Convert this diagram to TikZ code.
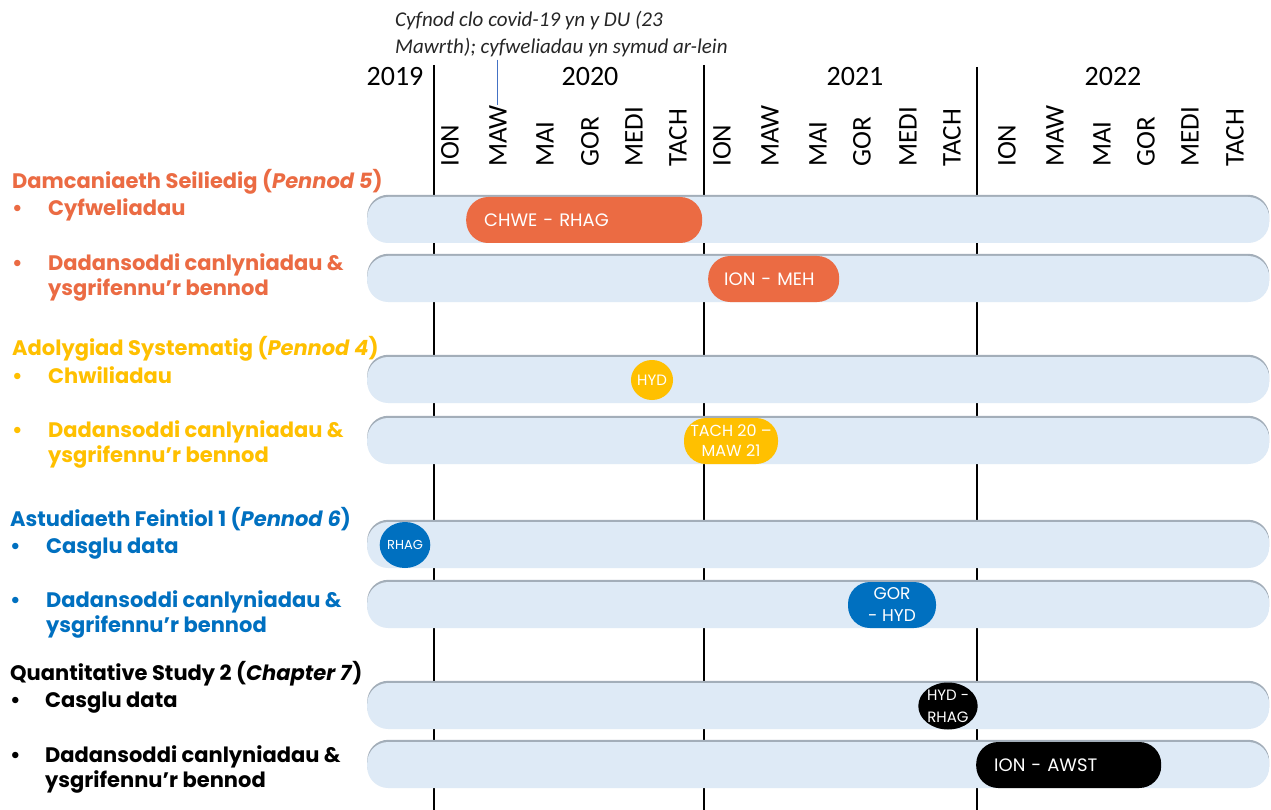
\documentclass[tikz,border=0pt]{standalone}
\usepackage{fontspec}
\setmainfont{Carlito}
\newfontfamily\gothic{Poppins}
\usetikzlibrary{shapes.geometric}
\definecolor{corange}{HTML}{EB6B43}
\definecolor{cyellow}{HTML}{FFC000}
\definecolor{cblue}{HTML}{0070C0}
\definecolor{barfill}{HTML}{DEEAF6}
\definecolor{barshadow}{HTML}{A3AEB9}
\definecolor{covidline}{HTML}{4472C4}
\tikzset{
  yearline/.style={line width=1.8pt, black},
  yearlbl/.style={font=\fontsize{28}{30}\selectfont, anchor=base, inner sep=0},
  monthlbl/.style={font=\fontsize{27}{30}\selectfont, rotate=90, anchor=base west, inner sep=0},
  bar/.style={fill=barfill, rounded corners=21, minimum width=902, minimum height=46, anchor=west, inner sep=0,
    preaction={fill=barshadow, transform canvas={yshift=2.2pt}}},
  pill/.style={rounded corners=22, minimum height=46, inner sep=0, text=white, align=center,
    font=\gothic\fontsize{18}{20}\selectfont},
  blob/.style={ellipse, inner sep=0, text=white, align=center, font=\gothic\fontsize{15}{20}\selectfont},
  head/.style={anchor=base west, inner sep=0, font=\gothic\bfseries\fontsize{21}{25}\selectfont},
  item/.style={anchor=base west, inner sep=0, align=left, font=\gothic\bfseries\fontsize{21}{25}\selectfont},
  covid/.style={covidline, line width=1.1pt},
}
\begin{document}
\begin{tikzpicture}[x=1pt,y=-1pt]
\useasboundingbox[fill=white] (0,0) rectangle (1271,810);
% covid note (base anchor = last line)
\node[anchor=base west, inner sep=0, align=left, font=\itshape\fontsize{21}{27}\selectfont, text=black!85] (note) at (395,54)
  {Cyfnod clo covid-19 yn y DU (23\\Mawrth); cyfweliadau yn symud ar-lein};
% year separators
\draw[yearline] (434,65) coordinate (s1top) -- (434,810) coordinate (s1bot);
\draw[yearline] (704,65) coordinate (s2top) -- (704,810) coordinate (s2bot);
\draw[yearline] (977,67) coordinate (s3top) -- (977,810) coordinate (s3bot);
% years
\node[yearlbl] (y2019) at (395,86) {2019};
\node[yearlbl] (y2020) at (590,86) {2020};
\node[yearlbl] (y2021) at (855,86) {2021};
\node[yearlbl] (y2022) at (1113,86) {2022};
% months
\foreach \c/\t/\n in {450/ION/a1,498/MAW/a2,545/MAI/a3,590/GOR/a4,634/MEDI/a5,678/TACH/a6,
  722/ION/b1,770/MAW/b2,818/MAI/b3,862/GOR/b4,908/MEDI/b5,952/TACH/b6,
  1007/ION/c1,1055/MAW/c2,1102/MAI/c3,1146/GOR/c4,1190/MEDI/c5,1235/TACH/c6}
  \node[monthlbl] (m\n) at (\c+8.5,167) {\t};
\draw[covid] ([yshift=-2pt]note.south -| ma2.east) -- (ma2.east);
% bars
\node[bar] (bar1) at (367,220) {};
\node[bar] (bar2) at (367,279) {};
\node[bar] (bar3) at (367,380) {};
\node[bar] (bar4) at (367,441) {};
\node[bar] (bar5) at (367,545) {};
\node[bar] (bar6) at (367,605) {};
\node[bar] (bar7) at (367,706) {};
\node[bar] (bar8) at (367,765) {};
% activities
\node[pill, fill=corange, anchor=west, text width=200, inner xsep=18, align=left] (p1) at (466,220) {CHWE - RHAG};
\node[pill, fill=corange, anchor=west, text width=99, inner xsep=16, align=left] (p2) at (708,279) {ION - MEH};
\node[blob, fill=cyellow, minimum width=40, minimum height=40] (p3) at (652,380) {HYD};
\node[pill, fill=cyellow, minimum width=94, font=\gothic\fontsize{16}{20}\selectfont] (p4) at (731,441) {TACH 20 –\\MAW 21};
\node[blob, fill=cblue, minimum width=46, minimum height=46, font=\gothic\fontsize{13}{16}\selectfont] (p5) at (405,545) {RHAG};
\node[pill, fill=cblue, minimum width=88, font=\gothic\fontsize{17}{22}\selectfont] (p6) at (892,605) {GOR\\- HYD};
\node[blob, fill=black, minimum width=56, minimum height=47, font=\gothic\fontsize{15}{22}\selectfont] (p7) at (948,706) {HYD -\\RHAG};
\node[pill, fill=black, anchor=west, text width=149, inner xsep=18, align=left] (p8) at (976,765) {ION - AWST};
% labels: section 1
\node[head, text=corange] (h1) at (12,189) {Damcaniaeth Seiliedig (\textit{Pennod 5})};
\node[item, text=corange] (d1a) at (12,216) {•};
\node[item, text=corange] (t1a) at (48,216) {Cyfweliadau};
\node[item, text=corange] (d1b) at (12,270) {•};
\node[item, text=corange] (t1b) at (48,295) {Dadansoddi canlyniadau \&\\ysgrifennu’r bennod};
% section 2
\node[head, text=cyellow] (h2) at (12,355) {Adolygiad Systematig (\textit{Pennod 4})};
\node[item, text=cyellow] (d2a) at (12,383) {•};
\node[item, text=cyellow] (t2a) at (48,383) {Chwiliadau};
\node[item, text=cyellow] (d2b) at (12,437) {•};
\node[item, text=cyellow] (t2b) at (48,462) {Dadansoddi canlyniadau \&\\ysgrifennu’r bennod};
% section 3
\node[head, text=cblue] (h3) at (10,526) {Astudiaeth Feintiol 1 (\textit{Pennod 6})};
\node[item, text=cblue] (d3a) at (10,553) {•};
\node[item, text=cblue] (t3a) at (46,553) {Casglu data};
\node[item, text=cblue] (d3b) at (10,607) {•};
\node[item, text=cblue] (t3b) at (46,632) {Dadansoddi canlyniadau \&\\ysgrifennu’r bennod};
% section 4
\node[head, text=black] (h4) at (10,680) {Quantitative Study 2 (\textit{Chapter 7})};
\node[item, text=black] (d4a) at (10,707) {•};
\node[item, text=black] (t4a) at (45,707) {Casglu data};
\node[item, text=black] (d4b) at (10,762) {•};
\node[item, text=black] (t4b) at (45,787) {Dadansoddi canlyniadau \&\\ysgrifennu’r bennod};
\end{tikzpicture}
\end{document}
